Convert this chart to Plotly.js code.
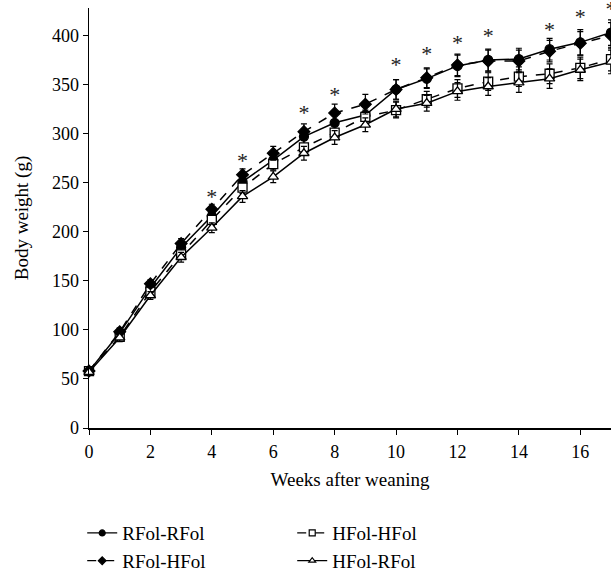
<!DOCTYPE html>
<html>
<head>
<meta charset="utf-8">
<script src="https://cdn.plot.ly/plotly-3.0.1.min.js"></script>
<style>html,body{margin:0;padding:0;background:#fff;}#chart{width:611px;height:571px;}</style>
</head>
<body>
<div id="chart"></div>
<script>
const weeks = [0,1,2,3,4,5,6,7,8,9,10,11,12,13,14,15,16,17];
const rfolRfol = [58, 97, 143, 184, 216, 251, 273, 297, 311, 319, 345, 356, 369, 375, 376, 386, 393, 403];
const rfolHfol = [58, 98, 147, 188, 223, 258, 280, 302, 321, 330, 345, 357, 370, 374, 374, 384, 392, 400];
const hfolHfol = [58, 93, 139, 177, 212, 245, 269, 286, 301, 317, 324, 335, 346, 353, 358, 361, 367, 376];
const hfolRfol = [57, 92, 135, 174, 204, 236, 256, 280, 296, 309, 325, 331, 343, 348, 352, 356, 365, 373];
const errRR = [3, 4, 4, 5, 5, 6, 7, 8, 9, 9, 10, 10, 11, 11, 11, 11, 13, 13];
const errRH = [3, 4, 4, 5, 5, 6, 7, 8, 9, 10, 10, 10, 11, 11, 11, 11, 12, 13];
const errHH = [3, 4, 4, 5, 5, 6, 6, 7, 7, 7, 8, 8, 9, 9, 10, 10, 11, 12];
const errHR = [3, 4, 4, 5, 5, 6, 6, 7, 7, 7, 8, 8, 9, 9, 10, 10, 11, 12];
const starWeeks = [4, 5, 7, 8, 10, 11, 12, 13, 15, 16, 17];
const starY = [234, 271, 319, 338, 368, 380, 391, 398, 404, 417, 425];
const names = ['RFol-RFol', 'HFol-HFol', 'RFol-HFol', 'HFol-RFol'];

const FONT = 'Liberation Serif, Times New Roman, serif';
function eb(arr){ return {type:'data', array:arr, visible:true, color:'#000', thickness:1.2, width:3}; }

const styles = [
  {dash:'solid', symbol:'circle', fill:'#000', size:9, lsize:6},
  {dash:'dash', symbol:'square', fill:'#fff', size:9, lsize:6},
  {dash:'dash', symbol:'diamond', fill:'#000', size:9, lsize:6},
  {dash:'solid', symbol:'triangle-up', fill:'#fff', size:9, lsize:6}
];
const series = [rfolRfol, hfolHfol, rfolHfol, hfolRfol];
const errs = [errRR, errHH, errRH, errHR];

const traces = [];
series.forEach((s, i) => {
  const st = styles[i];
  traces.push({x:weeks, y:s, name:names[i], mode:'lines+markers', error_y:eb(errs[i]), showlegend:false,
    line:{color:'#000', width:1.5, dash:st.dash},
    marker:{symbol:st.symbol, size:st.size, color:st.fill, line:{color:'#000', width:1.3}}, cliponaxis:false});
});
series.forEach((s, i) => {
  const st = styles[i];
  traces.push({x:[null], y:[null], name:names[i], mode:'lines+markers', showlegend:true,
    line:{color:'#000', width:1.3, dash:st.dash},
    marker:{symbol:st.symbol, size:st.lsize, color:st.fill, line:{color:'#000', width:1.2}}});
});
traces.push({x:starWeeks, y:starY, mode:'text', text:starWeeks.map(()=>'*'), textposition:'middle center',
   textfont:{family:FONT, size:22, color:'#222'}, showlegend:false, hoverinfo:'skip', cliponaxis:false});

const layout = {
  width:611, height:571,
  margin:{l:89, r:0, t:8, b:143, autoexpand:false},
  paper_bgcolor:'#fff', plot_bgcolor:'#fff',
  font:{family:FONT, size:18, color:'#000'},
  showlegend:true,
  xaxis:{range:[0,17], tickvals:[0,2,4,6,8,10,12,14,16], ticks:'outside', ticklen:5, tickcolor:'#000',
    showline:true, linecolor:'#000', linewidth:1.5, showgrid:false, zeroline:false, automargin:false,
    ticklabelstandoff:2,
    tickfont:{family:FONT, size:18}, title:{text:'Weeks after weaning', font:{family:FONT, size:19}, standoff:11}},
  yaxis:{range:[0,428], tickvals:[0,50,100,150,200,250,300,350,400], ticks:'outside', ticklen:5, tickcolor:'#000',
    showline:true, linecolor:'#000', linewidth:1.5, showgrid:false, zeroline:false, automargin:false,
    tickfont:{family:FONT, size:18}, title:{text:'Body weight (g)', font:{family:FONT, size:19}, standoff:18}},
  legend:{orientation:'h', x:-0.013, xanchor:'left', y:-0.205, yanchor:'top', entrywidth:165, entrywidthmode:'pixels',
    font:{family:FONT, size:19}, tracegroupgap:0, traceorder:'normal'}
};

Plotly.newPlot('chart', traces, layout, {displayModeBar:false, staticPlot:true});
</script>
</body>
</html>
